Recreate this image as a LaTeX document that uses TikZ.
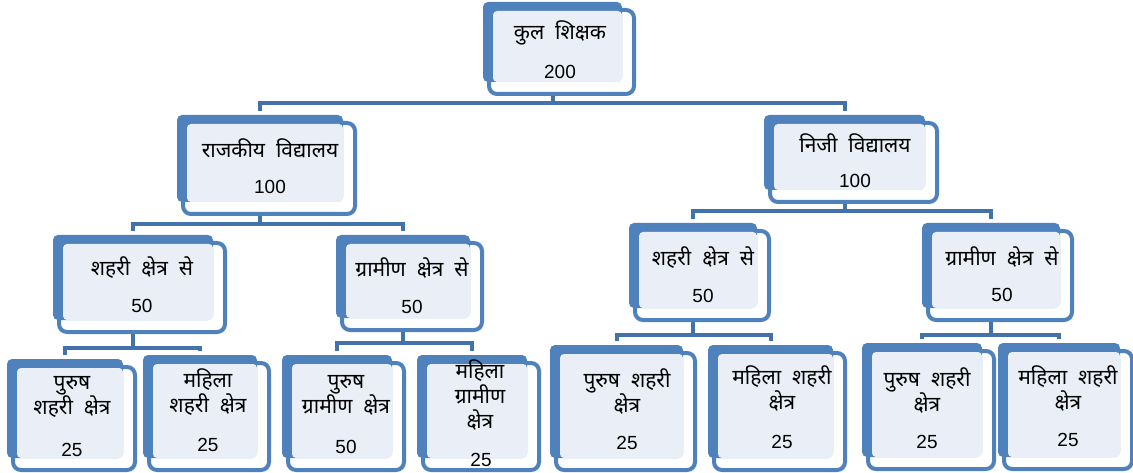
\documentclass[tikz,border=0pt]{standalone}
\usepackage{fontspec}
\setmainfont{Liberation Sans}
\newfontfamily\hindi[Script=Devanagari, WordSpace=2]{Noto Sans}
\usepackage{tikz}
\usetikzlibrary{positioning,fit,backgrounds,calc}
\definecolor{box500}{HTML}{4F81BD}
\definecolor{link600}{HTML}{4371AA}
\definecolor{box50}{HTML}{EAEFF7}
\tikzset{
  backbox/.style={rectangle, rounded corners=5pt, fill=box500, inner sep=0pt},
  frontbox/.style={draw=box500, line width=4pt, fill=white, rounded corners=8pt},
  lightbox/.style={fill=box50, rounded corners=4pt},
  link/.style={draw=link600, line width=4pt},
  boxtext/.style={font=\hindi\fontsize{21}{25}\selectfont, align=center, inner sep=0pt},
  boxnum/.style={font=\fontsize{19}{22}\selectfont, inner sep=0pt},
}
% name, back x1, y1, x2, y2
\newcommand{\orgbox}[5]{%
  \draw[frontbox] (#2+6,#3+8) rectangle (#4+12,#5+12);
  \node[backbox, fit={(#2,#3) (#4,#5)}] (#1) {};
  \fill[lightbox] (#2+10,#3+9) rectangle (#4,#5);
}

\begin{document}
\begin{tikzpicture}[x=1pt, y=-1pt]
  \useasboundingbox (0,0) rectangle (1133,473);

  % boxes
  \orgbox{top}{483}{2}{622}{82}
  \orgbox{rajkiya}{177}{115}{343}{202}
  \orgbox{niji}{764}{115}{925}{190}
  \orgbox{lshahri}{53}{235}{213}{320}
  \orgbox{lgramin}{336}{235}{470}{318}
  \orgbox{rshahri}{629}{223}{757}{308}
  \orgbox{rgramin}{922}{223}{1060}{308}
  \orgbox{lsp}{7}{359}{123}{458}
  \orgbox{lsm}{143}{355}{257}{458}
  \orgbox{lgp}{282}{355}{392}{458}
  \orgbox{lgm}{417}{355}{527}{458}
  \orgbox{rsp}{550}{345}{683}{458}
  \orgbox{rsm}{708}{345}{833}{458}
  \orgbox{rgp}{862}{343}{982}{457}
  \orgbox{rgm}{998}{343}{1120}{457}

  % texts
  \node[boxtext] (top-t) at (560,33) {कुल शिक्षक};
  \node[boxnum] (top-n) at (560,72) {200};
  \node[boxtext] (rajkiya-t) at (270,148) {राजकीय विद्यालय};
  \node[boxnum] (rajkiya-n) at (270,187) {100};
  \node[boxtext] (niji-t) at (855,143) {निजी विद्यालय};
  \node[boxnum] (niji-n) at (855,181) {100};
  \node[boxtext] (lshahri-t) at (142,268) {शहरी क्षेत्र से};
  \node[boxnum] (lshahri-n) at (142,306) {50};
  \node[boxtext] (lgramin-t) at (412,268) {ग्रामीण क्षेत्र से};
  \node[boxnum] (lgramin-n) at (412,307) {50};
  \node[boxtext] (rshahri-t) at (703,258) {शहरी क्षेत्र से};
  \node[boxnum] (rshahri-n) at (703,296) {50};
  \node[boxtext] (rgramin-t) at (1002,257) {ग्रामीण क्षेत्र से};
  \node[boxnum] (rgramin-n) at (1002,295) {50};
  \node[boxtext] (lsp-t) at (72,397) {पुरुष\\शहरी क्षेत्र};
  \node[boxnum] (lsp-n) at (72,450) {25};
  \node[boxtext] (lsm-t) at (208,392) {महिला\\शहरी क्षेत्र};
  \node[boxnum] (lsm-n) at (208,445) {25};
  \node[boxtext] (lgp-t) at (346,395) {पुरुष\\ग्रामीण क्षेत्र};
  \node[boxnum] (lgp-n) at (346,447) {50};
  \node[boxtext] (lgm-t) at (480,395) {महिला\\ग्रामीण\\क्षेत्र};
  \node[boxnum] (lgm-n) at (481,460) {25};
  \node[boxtext] (rsp-t) at (627,391) {पुरुष शहरी\\क्षेत्र};
  \node[boxnum] (rsp-n) at (627,443) {25};
  \node[boxtext] (rsm-t) at (782,388) {महिला शहरी\\क्षेत्र};
  \node[boxnum] (rsm-n) at (782,442) {25};
  \node[boxtext] (rgp-t) at (927,390) {पुरुष शहरी\\क्षेत्र};
  \node[boxnum] (rgp-n) at (927,442) {25};
  \node[boxtext] (rgm-t) at (1068,388) {महिला शहरी\\क्षेत्र};
  \node[boxnum] (rgm-n) at (1068,440) {25};

  % connectors
  \coordinate (bar0) at (0,103);
  \coordinate (bar1) at (0,224);
  \coordinate (bar2) at (0,211);
  \coordinate (bar3) at (0,348);
  \coordinate (bar4) at (0,343);
  \coordinate (bar5) at (0,335);
  \begin{scope}[on background layer]
    \draw[link] (top.south) -- (top.south |- bar0);
    \draw[link] ([yshift=4pt]rajkiya.north) |- (bar0 -| niji.north) -- ([yshift=4pt]niji.north);
    \draw[link] (rajkiya.south) -- (rajkiya.south |- bar1);
    \draw[link] ([yshift=4pt]lshahri.north) |- (bar1 -| lgramin.north) -- ([yshift=4pt]lgramin.north);
    \draw[link] (niji.south) -- (niji.south |- bar2);
    \draw[link] ([yshift=4pt]rshahri.north) |- (bar2 -| rgramin.north) -- ([yshift=4pt]rgramin.north);
    \draw[link] (lshahri.south) -- (lshahri.south |- bar3);
    \draw[link] ([yshift=4pt]lsp.north) |- (bar3 -| lsm.north) -- ([yshift=4pt]lsm.north);
    \draw[link] (lgramin.south) -- (lgramin.south |- bar4);
    \draw[link] ([yshift=4pt]lgp.north) |- (bar4 -| lgm.north) -- ([yshift=4pt]lgm.north);
    \draw[link] (rshahri.south) -- (rshahri.south |- bar5);
    \draw[link] ([yshift=4pt]rsp.north) |- (bar5 -| rsm.north) -- ([yshift=4pt]rsm.north);
    \draw[link] (rgramin.south) -- (rgramin.south |- bar5);
    \draw[link] ([yshift=4pt]rgp.north) |- (bar5 -| rgm.north) -- ([yshift=4pt]rgm.north);
  \end{scope}
\end{tikzpicture}
\end{document}
